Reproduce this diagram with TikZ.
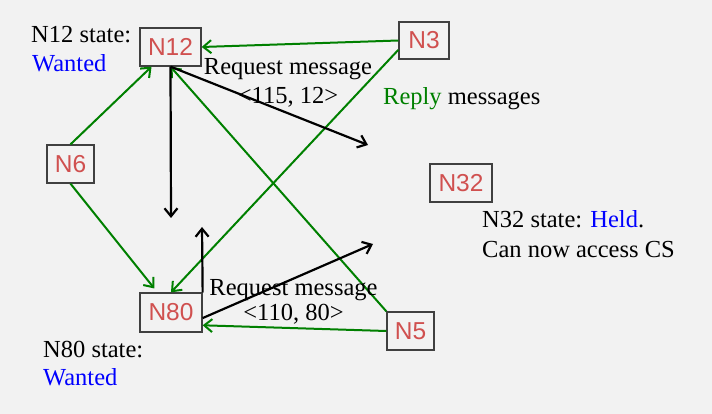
\documentclass[tikz,border=0pt]{standalone}
\usepackage{fontspec}
\setmainfont{Liberation Serif}
\newfontfamily\nodefont{Liberation Sans}
\usetikzlibrary{arrows.meta}
\definecolor{bgc}{HTML}{F2F2F2}
\definecolor{nred}{HTML}{D0504F}
\definecolor{ngreen}{HTML}{008000}
\definecolor{nblue}{HTML}{0000FF}
\definecolor{nborder}{HTML}{404040}
\tikzset{
  proc/.style={draw=nborder, line width=1.3pt, fill=bgc, inner sep=0pt, text=nred,
    font=\nodefont\fontsize{24.5}{27}\selectfont},
  lbl/.style={font=\fontsize{24.5}{28}\selectfont, inner sep=0pt, text=black},
  reply/.style={draw=ngreen, line width=2pt, -{Straight Barb[length=8pt,width=13pt,line width=2pt]}},
  req/.style={draw=black, line width=2.2pt, -{Straight Barb[length=8pt,width=13pt,line width=2.2pt]}}
}
\begin{document}
\begin{tikzpicture}[x=1pt,y=-1pt]
\fill[bgc] (0,0) rectangle (712,414);
\useasboundingbox (0,0) rectangle (712,414);

\node[proc, minimum width=61pt, minimum height=38pt] (N12) at (170.5,47) {N12};
\node[proc, minimum width=50pt, minimum height=37pt] (N3) at (424,40.5) {N3};
\node[proc, minimum width=47pt, minimum height=38pt] (N6) at (70.5,164) {N6};
\node[proc, minimum width=62pt, minimum height=39pt] (N80) at (171,312.5) {N80};
\node[proc, minimum width=47pt, minimum height=38pt] (N5) at (410.5,331) {N5};
\node[proc, minimum width=62pt, minimum height=38pt] (N32) at (461,183) {N32};

\coordinate (d12) at (171,218);
\coordinate (u80) at (202,227);
\coordinate (r12) at (368,145);
\coordinate (r80) at (373,244);

% reply messages
\draw[reply] (N3.west) -- (N12.east);
\draw[reply] (N3.200) -- (N80.north);
\draw[reply] (N6.north) -- (N12.226);
\draw[reply, shorten >=5pt] (N6.south) -- (N80.124);
\draw[reply] (N5.north west) -- (N12.south);
\draw[reply] (N5.west) -- (N80.338);

% request messages
\draw[req] (N12.south) -- (d12);
\draw[req] (N80.north east) -- (u80);
\draw[req] (N12.south) -- (r12);
\draw[req] (N80.350) -- (r80);

% labels
\node[lbl, anchor=base west] (s12a) at (31,43) {N12 state:};
\node[lbl, anchor=base west, text=nblue] (s12b) at (32,72) {Wanted};
\node[lbl, anchor=base] (rq1a) at (288,75) {Request message};
\node[lbl, anchor=base] (rq1b) at (288,104) {<115, 12>};
\node[lbl, anchor=base west] (rep) at (383,105) {\textcolor{ngreen}{Reply} messages};
\node[lbl, anchor=base west] (s32a) at (482,228) {N32 state: \textcolor{nblue}{Held}.};
\node[lbl, anchor=base west] (s32b) at (482,257) {Can now access CS};
\node[lbl, anchor=base] (rq2a) at (293.5,295) {Request message};
\node[lbl, anchor=base] (rq2b) at (293.5,320) {<110, 80>};
\node[lbl, anchor=base west] (s80a) at (43,357) {N80 state:};
\node[lbl, anchor=base west, text=nblue] (s80b) at (43,385) {Wanted};
\end{tikzpicture}
\end{document}
